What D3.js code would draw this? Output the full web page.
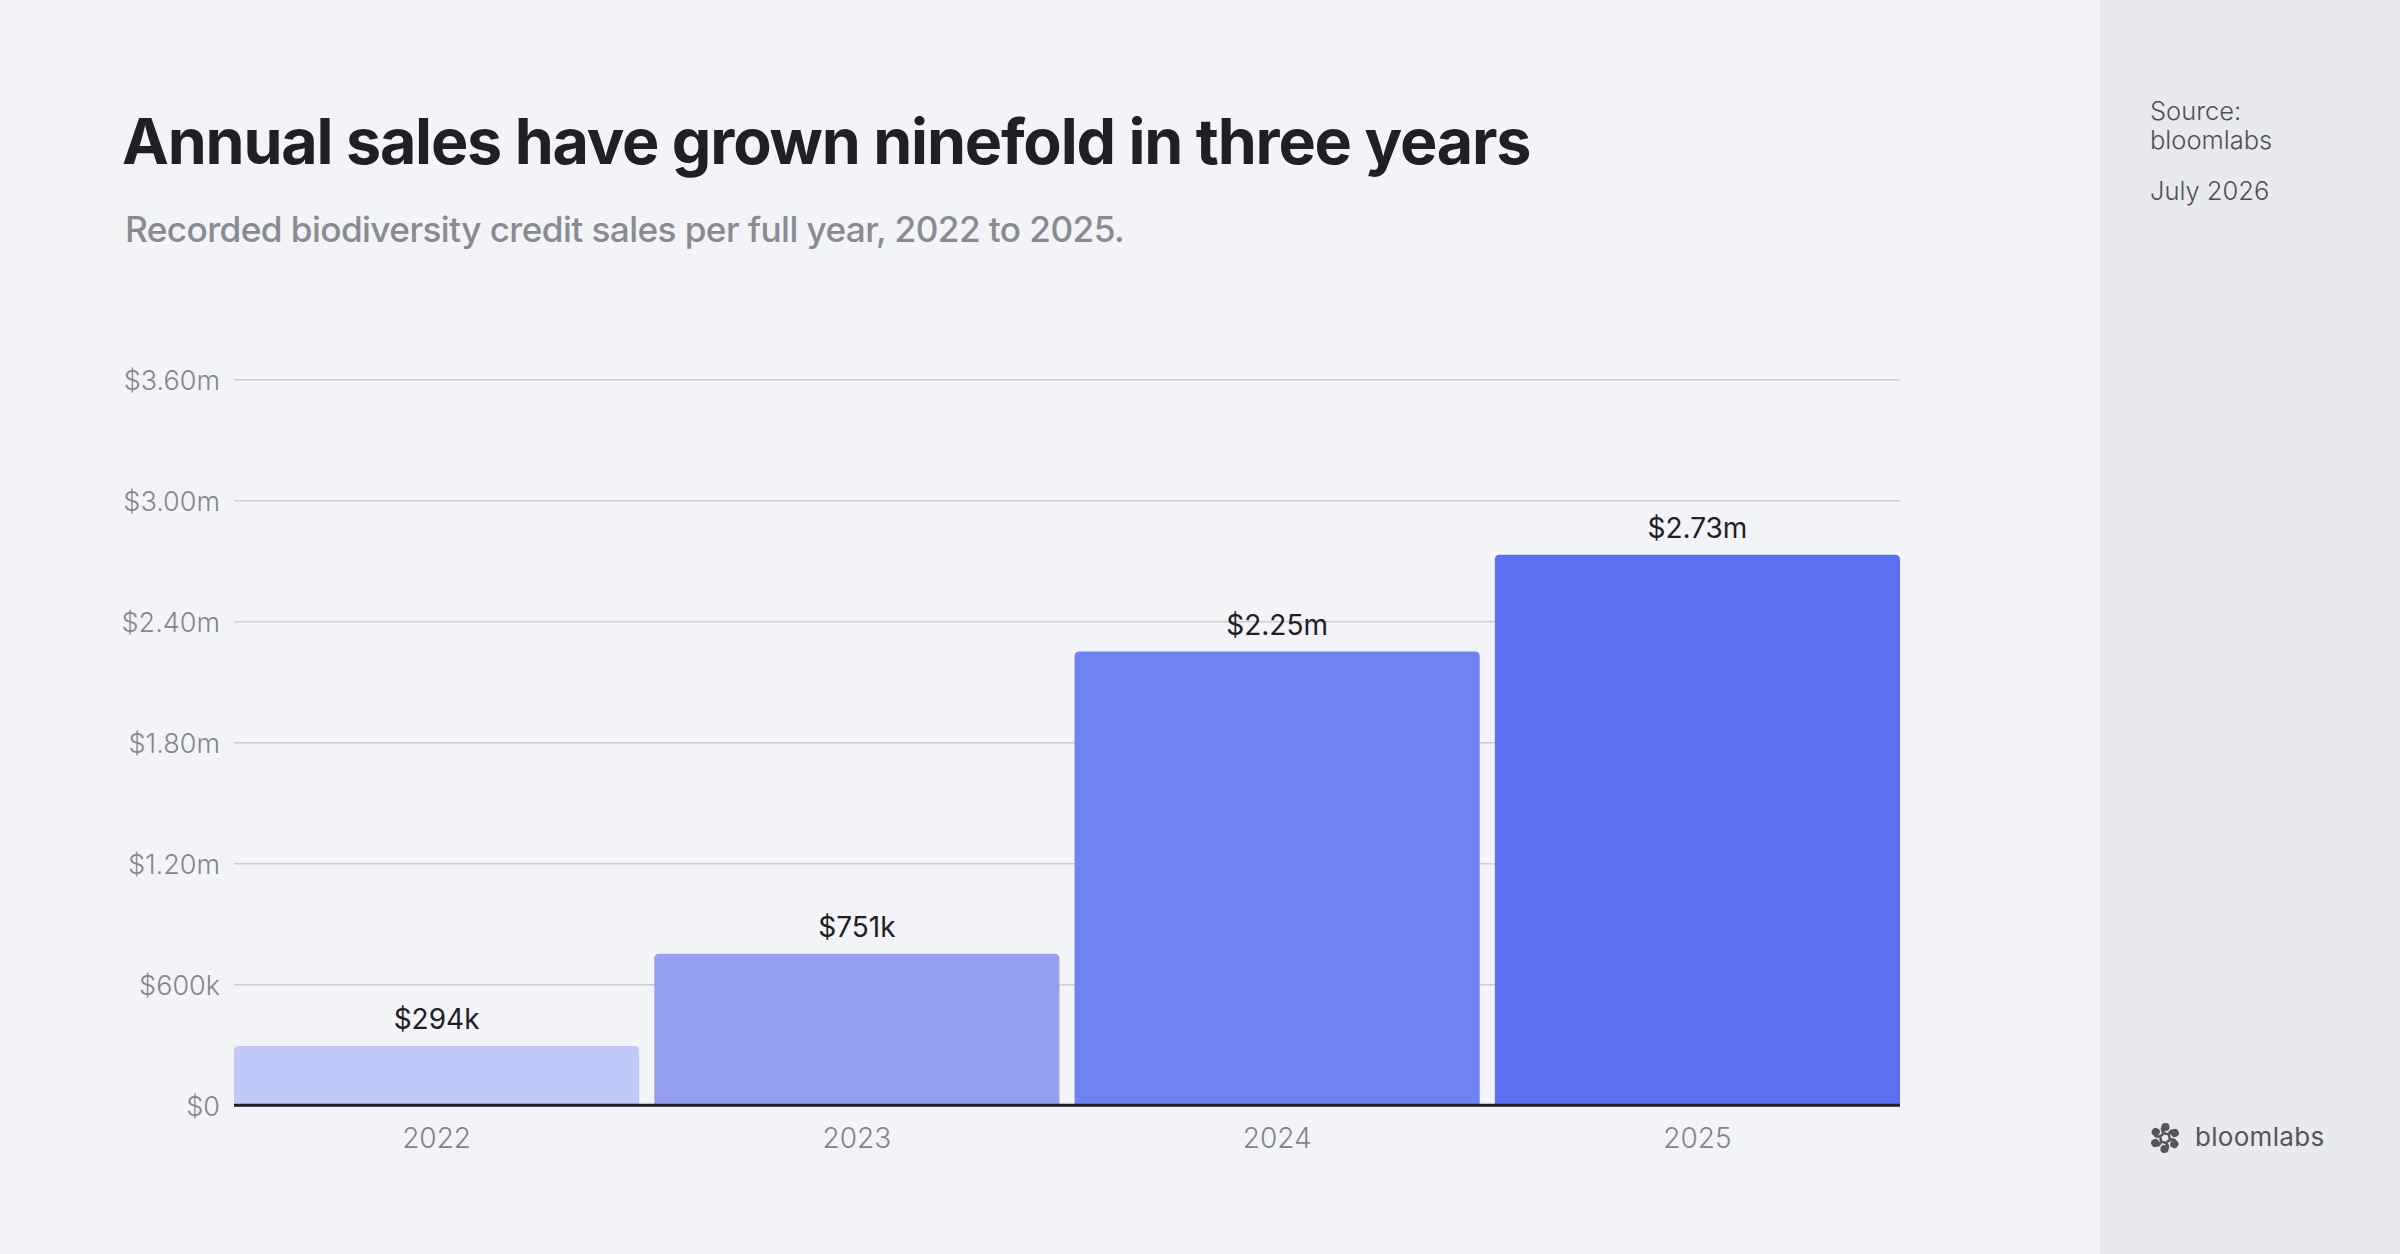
<!DOCTYPE html>
<html lang="en">
<head>
<meta charset="utf-8">
<title>Annual sales</title>
<script src="https://cdn.jsdelivr.net/npm/d3@7"></script>
<style>
  body { margin: 0; background: #f3f4f8; }
  svg { display: block; font-family: Inter, "Noto Sans", sans-serif; }
</style>
</head>
<body>
<script>
// data
const years = ["2022", "2023", "2024", "2025"];
const sales = [294000, 751000, 2250000, 2730000];
const valueLabels = ["$294k", "$751k", "$2.25m", "$2.73m"];
const yTicks = [0, 600000, 1200000, 1800000, 2400000, 3000000, 3600000];
const yTickLabels = ["$0", "$600k", "$1.20m", "$1.80m", "$2.40m", "$3.00m", "$3.60m"];
const barColors = ["#c2c8f8", "#95a1ee", "#7082f2", "#5b70ef"];

const W = 2400, H = 1254;
const plotLeft = 234, plotRight = 1900, plotTop = 379.3, plotBottom = 1105.3;

const svg = d3.select("body").append("svg")
    .attr("width", W)
    .attr("height", H);

// background + side panel
svg.append("rect").attr("x", 0).attr("y", 0).attr("width", W).attr("height", H).attr("fill", "#f3f4f8");
svg.append("rect").attr("x", 2100).attr("y", 0).attr("width", 300).attr("height", H).attr("fill", "#e9eaef");

// title + subtitle, fitted to the widths in the reference
function fit(sel, target) {
  const w = sel.node().getComputedTextLength();
  const fs = parseFloat(sel.attr("font-size"));
  sel.attr("font-size", fs * target / w);
}
const title = svg.append("text")
    .attr("x", 122).attr("y", 164)
    .attr("font-size", 68).attr("font-weight", 700)
    .attr("letter-spacing", "-1.2")
    .attr("fill", "#1f2024")
    .text("Annual sales have grown ninefold in three years");
fit(title, 1413);

const sub = svg.append("text")
    .attr("x", 125).attr("y", 242)
    .attr("font-size", 38).attr("font-weight", 500)
    .attr("letter-spacing", "-0.6")
    .attr("fill", "#8a8b92")
    .text("Recorded biodiversity credit sales per full year, 2022 to 2025.");
fit(sub, 1002);

// scales
const x = d3.scaleBand().domain(years).range([plotLeft, plotRight]).paddingInner(0.036).paddingOuter(0);
const y = d3.scaleLinear().domain([0, 3600000]).range([plotBottom, plotTop]);

// gridlines + y labels
const yAxis = d3.axisLeft(y)
    .tickValues(yTicks)
    .tickSize(-(plotRight - plotLeft))
    .tickPadding(14)
    .tickFormat((d, i) => yTickLabels[i]);

const gy = svg.append("g").attr("transform", `translate(${plotLeft},0)`).call(yAxis);
gy.select(".domain").remove();
gy.selectAll(".tick line").attr("stroke", "#cdced4").attr("stroke-width", 1.5);
gy.selectAll(".tick text")
    .attr("dy", "0.36em")
    .attr("font-size", 27)
    .attr("font-weight", 300)
    .attr("fill", "#85868e")
    .attr("font-family", "Inter, sans-serif");

// bars with rounded tops
const r = 5;
function barPath(x0, y0, w, h) {
  return `M${x0},${y0 + h}V${y0 + r}Q${x0},${y0} ${x0 + r},${y0}H${x0 + w - r}Q${x0 + w},${y0} ${x0 + w},${y0 + r}V${y0 + h}Z`;
}
svg.append("g").selectAll("path")
    .data(sales)
    .join("path")
    .attr("d", (d, i) => barPath(x(years[i]), y(d), x.bandwidth(), y(0) - y(d)))
    .attr("fill", (d, i) => barColors[i]);

// value labels
svg.append("g").selectAll("text")
    .data(sales)
    .join("text")
    .attr("x", (d, i) => x(years[i]) + x.bandwidth() / 2)
    .attr("y", d => y(d) - 17)
    .attr("text-anchor", "middle")
    .attr("font-size", 28)
    .attr("font-weight", 400)
    .attr("fill", "#1f2024")
    .text((d, i) => valueLabels[i]);

// x axis
const xAxis = d3.axisBottom(x).tickSize(0).tickPadding(0);
const gx = svg.append("g").attr("transform", `translate(0,${plotBottom})`).call(xAxis);
gx.select(".domain").remove();
gx.selectAll(".tick text")
    .attr("y", 43)
    .attr("dy", 0)
    .attr("font-size", 28)
    .attr("font-weight", 300)
    .attr("fill", "#83848b")
    .attr("font-family", "Inter, sans-serif");

// zero line
svg.append("line")
    .attr("x1", plotLeft).attr("x2", plotRight)
    .attr("y1", y(0)).attr("y2", y(0))
    .attr("stroke", "#1f2024").attr("stroke-width", 3);

// side notes
const side = svg.append("g").attr("fill", "#4f5056").attr("font-size", 25.5).attr("font-weight", 300);
side.append("text").attr("x", 2150).attr("y", 120).text("Source:");
side.append("text").attr("x", 2150).attr("y", 149).text("bloomlabs");
side.append("text").attr("x", 2150).attr("y", 200).text("July 2026");

// logo: six comma-shaped petals in a ring
const logo = svg.append("g").attr("transform", "translate(2165,1138)").attr("fill", "#55565b").attr("stroke", "#55565b");
d3.range(6).forEach(i => {
  const p = logo.append("g").attr("transform", `rotate(${i * 60})`);
  p.append("circle").attr("cx", 0.5).attr("cy", -11).attr("r", 4.1).attr("stroke", "none");
  p.append("path")
    .attr("d", "M-3,-9.5 Q-3,-5 2,-4")
    .attr("fill", "none")
    .attr("stroke-width", 2.6)
    .attr("stroke-linecap", "round");
});
svg.append("text")
    .attr("x", 2195).attr("y", 1146)
    .attr("font-size", 26)
    .attr("letter-spacing", "0.3")
    .attr("fill", "#55565b")
    .text("bloomlabs");
</script>
</body>
</html>
